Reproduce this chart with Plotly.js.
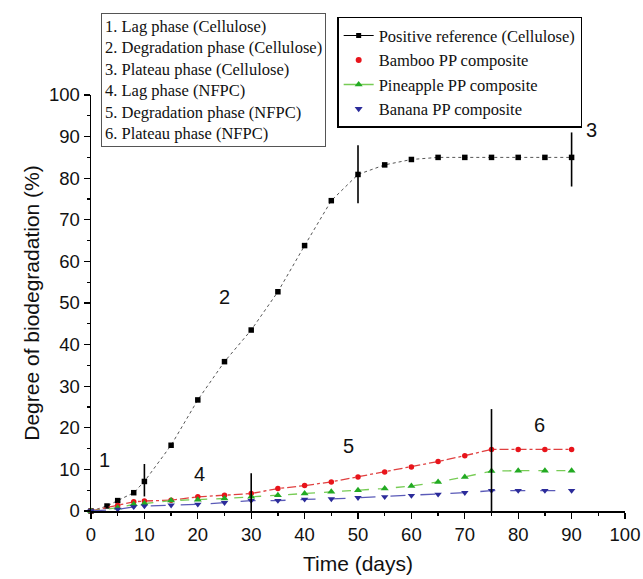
<!DOCTYPE html>
<html>
<head>
<meta charset="utf-8">
<script src="https://cdn.plot.ly/plotly-3.0.1.min.js"></script>
<style>html,body{margin:0;padding:0;background:#fff;}#chart{width:643px;height:579px;}</style>
</head>
<body>
<div id="chart"></div>
<script>
// ---- data ----
const celluloseDays = [0, 3, 5, 8, 10, 15, 20, 25, 30, 35, 40, 45, 50, 55, 60, 65, 70, 75, 80, 85, 90];
const celluloseVals = [0, 1.2, 2.5, 4.4, 7.1, 15.8, 26.7, 35.9, 43.5, 52.7, 63.8, 74.6, 80.9, 83.2, 84.5, 85.0, 85.0, 85.0, 85.0, 85.0, 85.0];

const compositeDays = [0, 5, 8, 10, 15, 20, 25, 30, 35, 40, 45, 50, 55, 60, 65, 70, 75, 80, 85, 90];
const bambooVals    = [0, 1.3, 2.2, 2.4, 2.6, 3.4, 3.8, 4.2, 5.4, 6.1, 7.0, 8.2, 9.4, 10.6, 11.9, 13.3, 14.8, 14.8, 14.8, 14.8];
const pineappleVals = [0, 0.8, 1.6, 1.8, 2.5, 2.7, 3.0, 3.4, 3.8, 4.2, 4.6, 5.0, 5.4, 6.0, 7.0, 8.2, 9.6, 9.7, 9.7, 9.7];
const bananaVals    = [0, 0.4, 1.0, 1.2, 1.4, 1.6, 2.0, 2.5, 2.5, 2.8, 2.9, 3.2, 3.4, 3.7, 4.0, 4.4, 4.9, 4.9, 4.9, 4.9];

const seriesNames = ["Positive reference (Cellulose)", "Bamboo PP composite", "Pineapple PP composite", "Banana PP composite"];

const phaseNotes = ["1. Lag phase (Cellulose)", "2. Degradation phase (Cellulose)", "3. Plateau phase (Cellulose)",
                    "4. Lag phase (NFPC)", "5. Degradation phase (NFPC)", "6. Plateau phase (NFPC)"];
// phase boundary bars: [day, low, high]
const phaseBars = [[10, 3.5, 11.3], [30, 0, 9.1], [50, 74, 87.9], [75, 0, 24.5], [90, 78, 91]];
// phase number labels: [label, day, value]
const phaseLabels = [["1", 2.6, 12.3], ["2", 25, 51.4], ["3", 93.8, 91.6], ["4", 20.4, 8.9], ["5", 48.3, 15.6], ["6", 84, 20.7]];

const xTitle = "Time (days)";
const yTitle = "Degree of biodegradation (%)";

// ---- traces ----
const traces = [
  {x: celluloseDays, y: celluloseVals, mode: "lines+markers", showlegend: false, cliponaxis: false,
   line: {color: "#555555", width: 1, dash: "dot"}, marker: {symbol: "square", size: 5.5, color: "#000"}},
  {x: compositeDays, y: bambooVals, mode: "lines+markers", showlegend: false, cliponaxis: false,
   line: {color: "#e04040", width: 1.3, dash: "dashdot"}, marker: {symbol: "circle", size: 5.5, color: "#e8141b"}},
  {x: compositeDays, y: pineappleVals, mode: "lines+markers", showlegend: false, cliponaxis: false,
   line: {color: "#77cc55", width: 1.3, dash: "dash"}, marker: {symbol: "triangle-up", size: 7, color: "#22aa22"}},
  {x: compositeDays, y: bananaVals, mode: "lines+markers", showlegend: false, cliponaxis: false,
   line: {color: "#5a5ab8", width: 1.3, dash: "longdash"}, marker: {symbol: "triangle-down", size: 6.5, color: "#2b2b9a"}},
  // legend entries
  {x: [null], y: [null], name: seriesNames[0], mode: "lines+markers",
   line: {color: "#000", width: 1.2}, marker: {symbol: "square", size: 5, color: "#000"}},
  {x: [null], y: [null], name: seriesNames[1], mode: "markers",
   marker: {symbol: "circle", size: 6, color: "#e8141b"}},
  {x: [null], y: [null], name: seriesNames[2], mode: "lines+markers",
   line: {color: "#77cc55", width: 1.5}, marker: {symbol: "triangle-up", size: 7, color: "#22aa22"}},
  {x: [null], y: [null], name: seriesNames[3], mode: "markers",
   marker: {symbol: "triangle-down", size: 7, color: "#2b2b9a"}}
];

const shapes = phaseBars.map(b => ({type: "line", xref: "x", yref: "y", x0: b[0], x1: b[0], y0: b[1], y1: b[2],
  line: {color: "#000", width: 1.6}}));

const annotations = phaseLabels.map(l => ({text: l[0], x: l[1], y: l[2], xref: "x", yref: "y", showarrow: false,
  font: {family: "Arial, Liberation Sans, sans-serif", size: 20, color: "#111"}}));

annotations.push({
  text: phaseNotes.join("<br>"), xref: "paper", yref: "paper", x: 0.019, y: 1.197,
  xanchor: "left", yanchor: "top", align: "left", showarrow: false,
  font: {family: "Liberation Serif, Times New Roman, serif", size: 16.5, color: "#111"},
  bordercolor: "#555", borderwidth: 1, borderpad: 3, bgcolor: "#fff"
});

const axisFont = {family: "Arial, Liberation Sans, sans-serif", size: 18.5, color: "#111"};
const titleFont = {family: "Arial, Liberation Sans, sans-serif", size: 21, color: "#111"};

const layout = {
  width: 643, height: 579,
  margin: {l: 91, r: 18, t: 95, b: 68},
  paper_bgcolor: "#fff", plot_bgcolor: "#fff",
  showlegend: true,
  legend: {x: 0.461, y: 1.188, xanchor: "left", yanchor: "top", bgcolor: "#fff",
    bordercolor: "#000", borderwidth: 1.5, tracegroupgap: 0,
    font: {family: "Liberation Serif, Times New Roman, serif", size: 16.5, color: "#111"}},
  xaxis: {range: [0, 100], dtick: 10, showgrid: false, zeroline: false, showline: true, linecolor: "#000", linewidth: 1.5,
    ticks: "outside", ticklen: 6, tickwidth: 1.3, tickcolor: "#000",
    minor: {dtick: 5, ticks: "outside", ticklen: 3, tickcolor: "#000"},
    tickfont: axisFont, title: {text: xTitle, font: titleFont, standoff: 12}},
  yaxis: {range: [0, 100], dtick: 10, showgrid: false, zeroline: false, showline: true, linecolor: "#000", linewidth: 1.5,
    ticks: "outside", ticklen: 6, tickwidth: 1.3, tickcolor: "#000",
    minor: {dtick: 5, ticks: "outside", ticklen: 3, tickcolor: "#000"},
    tickfont: axisFont, title: {text: yTitle, font: titleFont, standoff: 3}},
  shapes: shapes,
  annotations: annotations
};

Plotly.newPlot("chart", traces, layout, {displayModeBar: false, staticPlot: true});
</script>
</body>
</html>
